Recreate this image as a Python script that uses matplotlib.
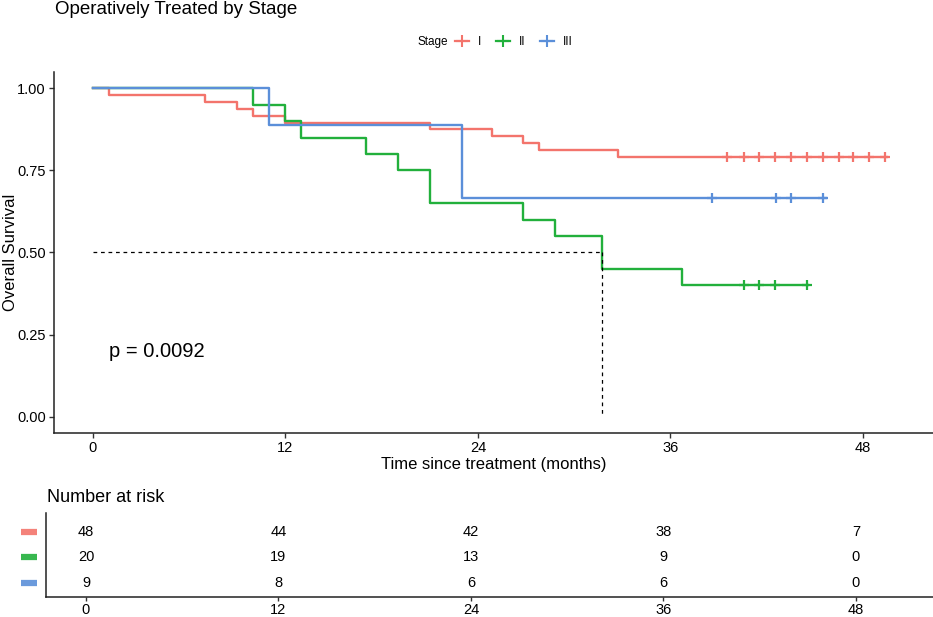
import numpy as np
import matplotlib
matplotlib.use('Agg')
import matplotlib.pyplot as plt
from matplotlib.lines import Line2D

plt.rcParams['font.family'] = ['Liberation Sans', 'DejaVu Sans']

# survival step curves
stages = ['I', 'II', 'III']
colors = ['#F3746C', '#22B03C', '#5B8FD9']

times_I = [0, 1, 7, 9, 10, 12, 21, 24.9, 26.8, 27.8, 32.75]
surv_I = [1.0, 0.979, 0.958, 0.938, 0.917, 0.896, 0.875, 0.854, 0.833, 0.812, 0.792]
end_I = 49.5
censor_I = [39.5, 40.6, 41.5, 42.5, 43.5, 44.5, 45.5, 46.5, 47.4, 48.4, 49.4]

times_II = [0, 10, 12, 13, 17, 19, 21, 26.8, 28.8, 31.75, 36.7]
surv_II = [1.0, 0.95, 0.90, 0.85, 0.80, 0.75, 0.65, 0.60, 0.55, 0.45, 0.40]
end_II = 44.6
censor_II = [40.6, 41.5, 42.5, 44.5]

times_III = [0, 11, 23]
surv_III = [1.0, 0.889, 0.667]
end_III = 45.7
censor_III = [38.6, 42.6, 43.5, 45.5]

median_time = 31.75
p_text = 'p = 0.0092'

risk_times = [0, 12, 24, 36, 48]
risk_I = [48, 44, 42, 38, 7]
risk_II = [20, 19, 13, 9, 0]
risk_III = [9, 8, 6, 6, 0]

curves = [
    (times_I, surv_I, end_I, censor_I),
    (times_II, surv_II, end_II, censor_II),
    (times_III, surv_III, end_III, censor_III),
]

W, H = 933, 617
fig = plt.figure(figsize=(W / 100, H / 100), dpi=100)


def px_axes(left, top, right, bottom):
    return fig.add_axes([left / W, 1 - bottom / H, (right - left) / W, (bottom - top) / H])


def style_axis(a):
    for sp in ['top', 'right']:
        a.spines[sp].set_visible(False)
    for sp in ['left', 'bottom']:
        a.spines[sp].set_linewidth(1.1)
        a.spines[sp].set_color('#222222')


ax = px_axes(54, 72, 933, 433)

for (t, s, end, cens), col in zip(curves, colors):
    tt = list(t) + [end]
    ss = list(s) + [s[-1]]
    ax.step(tt, ss, where='post', color=col, lw=1.7)
    # censor marks sit on the curve value at that time
    cy = [s[np.searchsorted(t, c, side='right') - 1] for c in cens]
    ax.plot(cens, cy, ls='none', marker='+', ms=7.5, mew=1.6, color=col)

ax.plot([0, median_time], [0.5, 0.5], color='black', ls=(0, (3, 3)), lw=0.9)
ax.plot([median_time, median_time], [0.5, 0], color='black', ls=(0, (3, 3)), lw=0.9)

ax.text(1.0, 0.197, p_text, fontsize=14.5, va='center', ha='left')

ax.set_xlim(-2.43, 52.37)
ax.set_ylim(-0.05, 1.05)
ax.set_xticks([0, 12, 24, 36, 48])
ax.set_yticks([0, 0.25, 0.5, 0.75, 1.0])
ax.set_yticklabels(['0.00', '0.25', '0.50', '0.75', '1.00'])
ax.tick_params(labelsize=10.5, length=3.5, width=1, color='#333333', pad=2.5)
style_axis(ax)
ax.set_xlabel('Time since treatment (months)', fontsize=12, labelpad=1)
ax.set_ylabel('Overall Survival', fontsize=12)
ax.yaxis.set_label_coords((18 - 54) / 879, 0.5)

fig.text(55 / W, 1 - 9 / H, 'Operatively Treated by Stage', fontsize=13.5, va='center', ha='left')

# legend on top
fig.text(448 / W, 1 - 42 / H, 'Stage', fontsize=8.5, va='center', ha='right')
handles = [Line2D([0], [0], color=c, lw=1.6, marker='+', ms=8, mew=1.5) for c in colors]
fig.legend(handles, stages, loc='center left', bbox_to_anchor=(455 / W, 1 - 42 / H), ncol=3,
           frameon=False, fontsize=8.5, handlelength=1.2, handletextpad=0.7, columnspacing=1.3,
           borderaxespad=0, borderpad=0)

# risk table
tab = px_axes(46, 513, 933, 597)
tab.set_xlim(-2.49, 52.8)
row_y = [3, 2, 1]
tab.set_ylim(1 - 14 / 25.5, 3 + 18.5 / 25.5)
for vals, y in zip([risk_I, risk_II, risk_III], row_y):
    for t, v in zip(risk_times, vals):
        tab.text(t, y, str(v), ha='center', va='center', fontsize=10.5)
tab.set_xticks(risk_times)
tab.set_yticks([])
tab.tick_params(labelsize=10.5, length=3, width=1, color='#333333', pad=1.5)
style_axis(tab)

for c, y in zip(colors, [531.5, 557, 583]):
    fig.add_artist(Line2D([21 / W, 37 / W], [1 - y / H, 1 - y / H], color=c, lw=4.5,
                          solid_capstyle='butt', alpha=0.9))

fig.text(47 / W, 1 - 497 / H, 'Number at risk', fontsize=13, va='center', ha='left')

fig.savefig('out.png', dpi=100)
